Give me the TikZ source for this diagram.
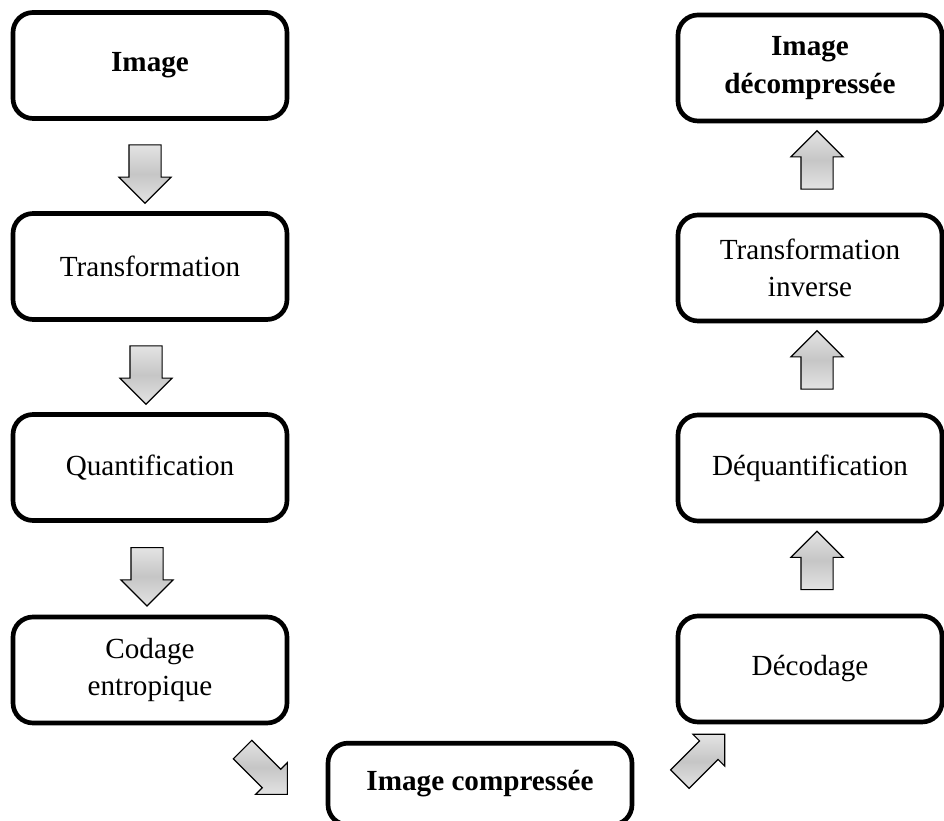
\documentclass[tikz,border=0pt]{standalone}
\usepackage{fontspec}
\setmainfont{Liberation Serif}
\usetikzlibrary{calc,shapes.arrows,positioning}

\tikzset{box/.style={rectangle,draw=black,line width=2.8pt,rounded corners=12pt,align=center,inner sep=0pt}}
\tikzset{leftbox/.style={box,minimum width=164.4pt,minimum height=63.6pt}}
\tikzset{rightbox/.style={box,minimum width=158.4pt,minimum height=63.6pt}}
\tikzset{blk/.style={single arrow,draw=black,line width=0.7pt,inner xsep=0pt,shading=axis,top color=gray!22,bottom color=gray!22,middle color=gray!45}}
\tikzset{vblk/.style={blk,inner ysep=9.3pt,single arrow head extend=6pt,minimum height=35pt}}
\tikzset{dblk/.style={blk,inner ysep=7.5pt,single arrow head extend=5.6pt,minimum height=38pt}}

\begin{document}
\fontsize{17.5}{22.5}\selectfont
\begin{tikzpicture}[x=0.6pt,y=-0.6pt]
	\useasboundingbox (0,0) rectangle (944,821);
	%%compression chain
	\node[leftbox] (img) at (150,65.5) {\textbf{Image}};
	\node[leftbox] (trf) at (150,266.5) {Transformation};
	\node[leftbox] (qnt) at (150,467.5) {Quantification};
	\node[leftbox] (cod) at (150,670) {Codage\\entropique};
	%%compressed image
	\node[box,minimum width=182.4pt,minimum height=49pt] (cmp) at (480,784) {\textbf{Image compressée}};
	%%decompression chain
	\node[rightbox] (dec) at (810,669) {Décodage};
	\node[rightbox] (deq) at (810,468) {Déquantification};
	\node[rightbox] (tinv) at (810,268) {Transformation\\inverse};
	\node[rightbox] (imgd) at (810,68) {\textbf{Image}\\\textbf{décompressée}};
	%%arrows down
	\node[vblk,rotate=-90] (a1) at ($(img.south)!0.5!(trf.north)+(-5,0)$) {};
	\node[vblk,rotate=-90] (a2) at ($(trf.south)!0.5!(qnt.north)+(-4,0)$) {};
	\node[vblk,rotate=-90] (a3) at ($(qnt.south)!0.5!(cod.north)+(-3,0)$) {};
	%%arrows diagonal
	\node[dblk,rotate=-45] (a4) at ($(cod.south east)+(-29,42)$) {};
	\node[dblk,rotate=45] (a5) at ($(dec.south west)+(22,37)$) {};
	%%arrows up
	\node[vblk,rotate=90] (a6) at ($(deq.south)!0.5!(dec.north)+(7,0)$) {};
	\node[vblk,rotate=90] (a7) at ($(tinv.south)!0.5!(deq.north)+(7,0)$) {};
	\node[vblk,rotate=90] (a8) at ($(imgd.south)!0.5!(tinv.north)+(7,0)$) {};
\end{tikzpicture}
\end{document}
